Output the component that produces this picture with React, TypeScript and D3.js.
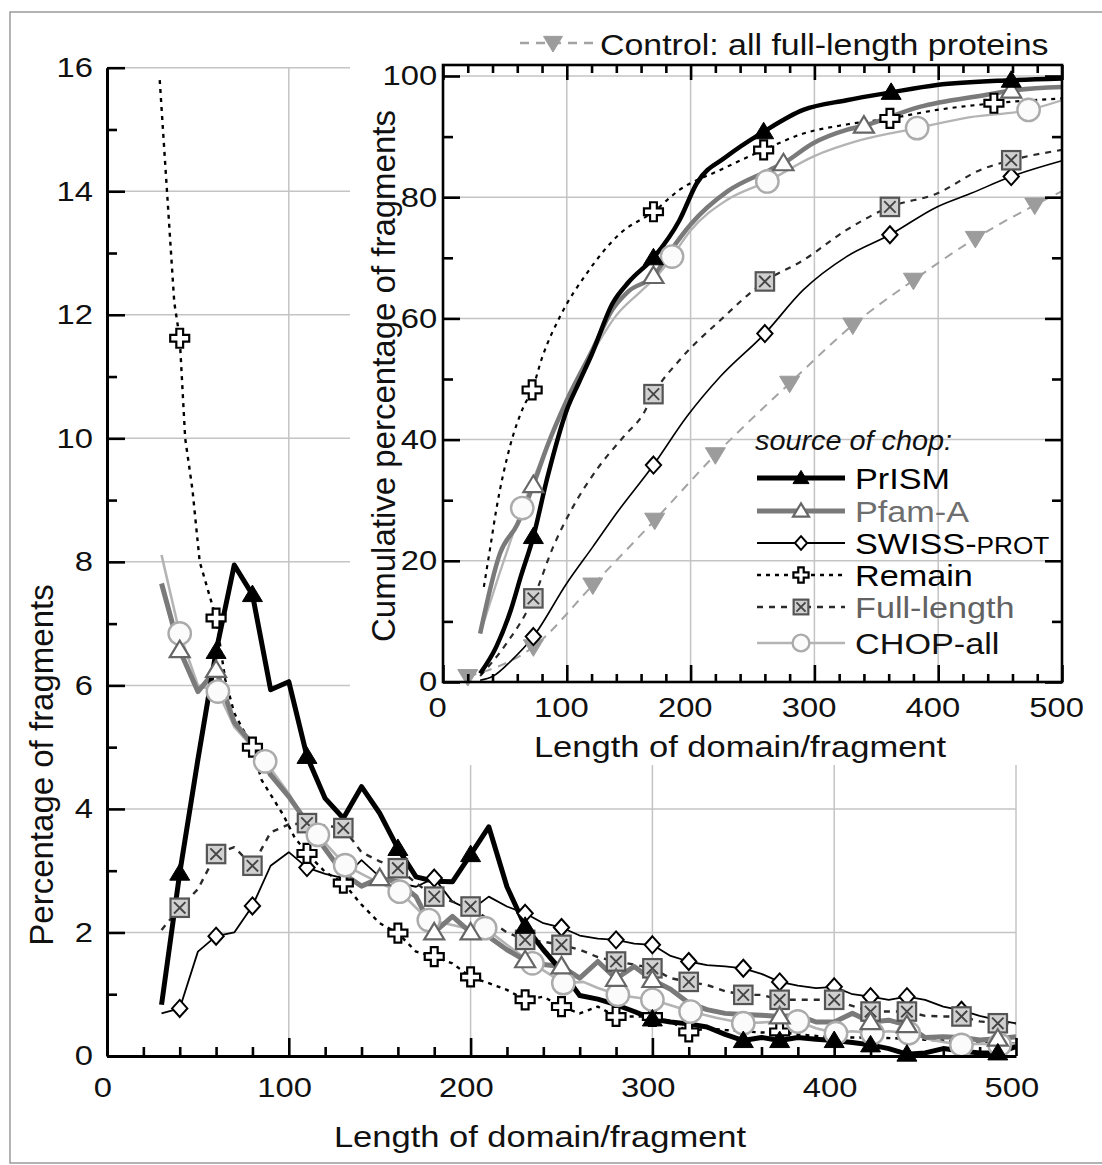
import React, { useEffect, useRef } from "react";
import * as d3 from "d3";

type Pt = [number, number];

// ---- main panel: percentage of fragments vs length ----
const prismMain: Pt[] = [[30,0.83],[40,2.96],[50,4.8],[60,6.55],[70,7.95],[80,7.47],[90,5.93],[100,6.06],[110,4.85],[120,4.17],[130,3.85],[140,4.36],[150,3.93],[160,3.36],[170,2.9],[180,2.83],[190,2.82],[200,3.26],[210,3.71],[220,2.74],[230,2.1],[240,1.72],[250,1.38],[260,0.98],[270,0.92],[280,0.83],[290,0.72],[300,0.6],[310,0.55],[320,0.52],[330,0.47],[340,0.35],[350,0.25],[360,0.3],[370,0.25],[380,0.3],[390,0.27],[400,0.25],[410,0.22],[420,0.18],[430,0.12],[440,0.03],[450,0.05],[460,0.12],[470,0.08],[480,0.05],[490,0.05],[500,0.15]];
const prismMainMarks = [40,60,80,110,160,200,230,300,350,370,400,420,440,490];

const pfamMain: Pt[] = [[30,7.65],[40,6.57],[50,5.9],[60,6.25],[70,5.4],[80,5.05],[90,4.55],[100,4.2],[110,3.78],[120,3.35],[130,2.95],[140,2.75],[150,2.88],[160,2.82],[170,2.58],[180,2.0],[190,2.26],[200,2.0],[210,1.93],[220,1.72],[230,1.55],[240,1.48],[250,1.45],[260,1.26],[270,1.53],[280,1.25],[290,1.45],[300,1.23],[310,1.08],[320,0.86],[330,0.75],[340,0.69],[350,0.67],[360,0.66],[370,0.64],[380,0.66],[390,0.55],[400,0.55],[410,0.69],[420,0.55],[430,0.58],[440,0.5],[450,0.3],[460,0.31],[470,0.3],[480,0.26],[490,0.28],[500,0.31]];
const pfamMainMarks = [40,60,150,180,200,230,250,280,300,370,420,440,490];

const swissMain: Pt[] = [[30,0.69],[40,0.77],[50,1.69],[60,1.94],[70,2.0],[80,2.43],[90,3.08],[100,3.3],[110,3.05],[120,2.95],[130,2.88],[140,3.17],[150,2.9],[160,2.8],[170,2.74],[180,2.88],[190,2.5],[200,2.36],[210,2.58],[220,2.42],[230,2.31],[240,2.15],[250,2.08],[260,1.95],[270,1.9],[280,1.88],[290,1.82],[300,1.8],[310,1.62],[320,1.53],[330,1.47],[340,1.45],[350,1.42],[360,1.33],[370,1.2],[380,1.14],[390,1.1],[400,1.12],[410,1.0],[420,0.96],[430,0.91],[440,0.96],[450,0.91],[460,0.8],[470,0.74],[480,0.65],[490,0.58],[500,0.53]];
const swissMainMarks = [40,60,80,110,180,230,250,280,300,320,350,370,400,420,440,470];

const remainMain: Pt[] = [[29,15.8],[33,14.0],[37,12.2],[40,11.62],[43,10.0],[47,9.17],[51,8.0],[60,7.09],[65,6.1],[70,5.55],[80,5.0],[85,4.47],[93,4.09],[97,3.9],[103,3.55],[110,3.28],[120,2.98],[130,2.8],[140,2.45],[150,2.15],[160,1.99],[170,1.69],[180,1.61],[190,1.5],[200,1.28],[210,1.18],[220,1.07],[230,0.91],[240,0.96],[250,0.8],[260,0.69],[270,0.8],[280,0.64],[290,0.64],[300,0.64],[310,0.56],[320,0.39],[330,0.45],[340,0.42],[350,0.4],[360,0.38],[370,0.39],[380,0.35],[400,0.3],[420,0.3],[440,0.28],[460,0.25],[480,0.22],[500,0.2]];
const remainMainMarks = [40,60,80,110,130,160,180,200,230,250,280,300,320,370];

const fullMain: Pt[] = [[30,2.04],[40,2.4],[50,2.7],[60,3.27],[70,3.38],[80,3.08],[90,3.62],[100,3.75],[110,3.77],[120,3.73],[130,3.69],[140,3.3],[150,3.15],[160,3.04],[170,2.8],[180,2.58],[190,2.5],[200,2.42],[210,2.2],[220,2.0],[230,1.88],[240,1.85],[250,1.8],[260,1.72],[270,1.6],[280,1.53],[290,1.48],[300,1.42],[310,1.26],[320,1.2],[330,1.15],[340,1.05],[350,0.99],[360,0.99],[370,0.91],[380,0.91],[390,0.91],[400,0.91],[410,0.81],[420,0.72],[430,0.72],[440,0.72],[450,0.65],[460,0.64],[470,0.64],[480,0.56],[490,0.53],[500,0.53]];
const fullMainMarks = [40,60,80,110,130,160,180,200,230,250,280,300,320,350,370,400,420,440,470,490];

const chopMain: Pt[] = [[30,8.11],[40,6.84],[50,6.0],[61,5.9],[70,5.33],[80,5.0],[87,4.77],[100,4.25],[108,3.85],[116,3.58],[131,3.09],[140,2.95],[150,2.8],[161,2.66],[170,2.4],[177,2.2],[190,2.12],[200,2.05],[208,2.07],[220,1.8],[234,1.5],[242,1.35],[251,1.18],[262,1.2],[270,1.1],[281,0.99],[290,0.95],[300,0.91],[310,0.82],[321,0.72],[335,0.62],[350,0.53],[365,0.55],[380,0.56],[390,0.45],[401,0.37],[410,0.4],[421,0.37],[430,0.4],[441,0.37],[455,0.25],[470,0.18],[480,0.2],[491,0.18],[500,0.2]];
const chopMainMarks = [40,61,87,116,131,161,177,208,234,251,281,300,321,350,380,401,421,441,470,491];

// ---- inset: cumulative percentage ----
const prismCum: Pt[] = [[30,1.4],[43,5.8],[55,12],[63,17.5],[73,24],[84,33.5],[100,44.9],[110,49.5],[120,54],[137,62.5],[150,66],[170,70],[191,76.2],[205,82.3],[229,86.7],[259,90.8],[291,94.4],[326,96.0],[362,97.3],[399,98.5],[459,99.3],[500,99.6]];
const prismCumMarks = [73,170,259,362,459];

const pfamCum: Pt[] = [[30,8.0],[46,21.2],[60,26],[73,32.5],[84,38.8],[100,46.5],[120,54.5],[137,61.5],[150,64.5],[170,67],[185,71.5],[200,75.5],[230,81],[264,84.5],[275,85.6],[299,88.9],[326,91.1],[340,91.8],[385,94.9],[439,96.9],[459,97.6],[500,98.2]];
const pfamCumMarks = [73,170,275,340,459];

const swissCum: Pt[] = [[30,0.3],[40,0.9],[55,3.5],[73,7.5],[100,16.3],[121,22.3],[140,27.8],[170,35.8],[197,43.8],[224,50.4],[260,57.5],[291,64.7],[326,70.2],[361,73.8],[399,78.4],[426,80.6],[459,83.4],[500,86]];
const swissCumMarks = [73,170,260,361,459];

const remainCum: Pt[] = [[33,15.7],[38,22],[43,28.4],[54,38.8],[65,45.4],[72,48.2],[80,53.5],[95,60.5],[116,67.4],[143,74],[170,77.6],[191,81.2],[224,84.5],[259,87.8],[291,90.5],[326,92],[361,93],[399,94.4],[445,95.5],[500,96.3]];
const remainCumMarks = [72,170,259,361,445];

const fullCum: Pt[] = [[30,1.0],[50,6],[73,13.8],[89,22.3],[105,28.9],[124,35],[146,40.5],[162,44.3],[170,47.5],[191,53.1],[224,59.7],[260,66.1],[291,69.6],[326,74.6],[361,78.4],[399,80.6],[434,84.5],[459,86.1],[500,87.8]];
const fullCumMarks = [73,170,260,361,459];

const chopCum: Pt[] = [[30,8],[45,17.5],[64,28.7],[80,37],[100,46],[120,54],[140,60.5],[160,64.5],[175,67.5],[185,70.2],[200,74.5],[229,79.5],[262,82.6],[299,86.7],[337,89.4],[383,91.4],[426,93.2],[473,94.4],[500,96]];
const chopCumMarks = [64,185,262,383,473];

const controlCum: Pt[] = [[20,0.9],[73,5.8],[121,16],[171,26.7],[220,37.5],[280,49.3],[331,58.9],[380,66.3],[430,73.2],[478,78.7],[500,81]];
const controlCumMarks = [20,73,121,171,220,280,331,380,430,478];

// ---- ticks / labels ----
const mainYTicks = [0,2,4,6,8,10,12,14,16];
const mainXTicks = [0,100,200,300,400,500];
const insetYTicks = [0,20,40,60,80,100];
const insetXTicks = [0,100,200,300,400,500];
const legendKeys = ["prism","pfam","swiss","remain","full","chop"];
const legendNames = ["PrISM","Pfam-A","SWISS-","Remain","Full-length","CHOP-all"];

const FONT = '"Liberation Sans", Arial, Helvetica, sans-serif';

const STYLE: any = {
  prism:   { color: "#000", width: 5, dash: null, shape: "triUp", fill: "#000", stroke: "#000", sw: 1, text: "#000" },
  pfam:    { color: "#7a7a7a", width: 5, dash: null, shape: "triUp", fill: "#fff", stroke: "#666", sw: 2.2, text: "#6e6e6e" },
  swiss:   { color: "#000", width: 1.8, dash: null, shape: "diamond", fill: "#fff", stroke: "#000", sw: 2, text: "#000" },
  remain:  { color: "#000", width: 2.4, dash: "4 5", shape: "cross", fill: "#fff", stroke: "#000", sw: 2.2, text: "#000" },
  full:    { color: "#2a2a2a", width: 2.4, dash: "6 6", shape: "squareX", fill: "#d0d0d0", stroke: "#555", sw: 2.2, text: "#626262" },
  chop:    { color: "#b4b4b4", width: 2.6, dash: null, shape: "circle", fill: "#fbfbfb", stroke: "#ababab", sw: 2.4, text: "#111" },
  control: { color: "#a3a3a3", width: 2.2, dash: "9 7", shape: "triDown", fill: "#9c9c9c", stroke: "#9c9c9c", sw: 1, text: "#111" },
};

function drawMarker(g: any, key: string, cx: number, cy: number, k: number) {
  const st = STYLE[key];
  const m = g.append("g").attr("transform", `translate(${cx},${cy})`);
  const s = 10 * k;
  const common = (sel: any) => sel.attr("fill", st.fill).attr("stroke", st.stroke).attr("stroke-width", st.sw).attr("stroke-linejoin", "miter");
  if (st.shape === "triUp") {
    common(m.append("path").attr("d", `M0,${-s * 0.95}L${s},${s * 0.7}L${-s},${s * 0.7}Z`));
  } else if (st.shape === "triDown") {
    common(m.append("path").attr("d", `M0,${s * 0.95}L${s},${-s * 0.7}L${-s},${-s * 0.7}Z`));
  } else if (st.shape === "diamond") {
    const d = s * 0.85;
    common(m.append("path").attr("d", `M0,${-d}L${d * 0.9},0L0,${d}L${-d * 0.9},0Z`));
  } else if (st.shape === "cross") {
    const h = s * 0.95, a = s * 0.34;
    common(m.append("path").attr("d",
      `M${-a},${-h}L${a},${-h}L${a},${-a}L${h},${-a}L${h},${a}L${a},${a}L${a},${h}L${-a},${h}L${-a},${a}L${-h},${a}L${-h},${-a}L${-a},${-a}Z`));
  } else if (st.shape === "squareX") {
    const h = s * 0.92;
    common(m.append("rect").attr("x", -h).attr("y", -h).attr("width", 2 * h).attr("height", 2 * h));
    const q = h * 0.62;
    m.append("path").attr("d", `M${-q},${-q}L${q},${q}M${q},${-q}L${-q},${q}`)
      .attr("stroke", "#444").attr("stroke-width", 1.9).attr("fill", "none");
  } else if (st.shape === "circle") {
    common(m.append("circle").attr("r", s * 1.12));
  }
}

function drawLine(g: any, key: string, pts: Pt[], x: any, y: any, curve: any, widthScale = 1) {
  const st = STYLE[key];
  const line = d3.line<Pt>().x(d => x(d[0])).y(d => y(d[1])).curve(curve);
  g.append("path").datum(pts)
    .attr("d", line)
    .attr("fill", "none")
    .attr("stroke", st.color)
    .attr("stroke-width", st.width * widthScale)
    .attr("stroke-dasharray", st.dash)
    .attr("stroke-linejoin", "round");
}

function drawMarks(g: any, key: string, pts: Pt[], marks: number[], x: any, y: any, k: number) {
  pts.filter(p => marks.includes(p[0])).forEach(p => drawMarker(g, key, x(p[0]), y(p[1]), k));
}

function txt(g: any, s: string, x: number, y: number, size: number, opts: any = {}) {
  const sx = opts.sx ?? 1.16;
  const t = g.append("text")
    .attr("transform", opts.rotate ? `translate(${x},${y}) rotate(${opts.rotate})` : `translate(${x},${y}) scale(${sx},1)`)
    .attr("font-family", FONT)
    .attr("font-size", size)
    .attr("text-anchor", opts.anchor || "start")
    .attr("fill", opts.fill || "#111")
    .attr("font-style", opts.italic ? "italic" : "normal")
    .text(s);
  return t;
}

function styleAxis(g: any, labels: boolean, sx = 1.17) {
  g.select(".domain").attr("stroke", "#000").attr("stroke-width", 3);
  g.selectAll(".tick line").attr("stroke", "#000").attr("stroke-width", 2.6);
  if (labels) {
    g.selectAll(".tick text")
      .attr("font-family", FONT).attr("font-size", 28).attr("fill", "#111")
      .attr("transform", `scale(${sx},1)`);
  } else {
    g.selectAll(".tick text").remove();
  }
}

const App = () => {
  const ref = useRef<SVGSVGElement>(null);

  useEffect(() => {
    const svg = d3.select(ref.current);
    svg.selectAll("*").remove();

    svg.append("rect").attr("width", 1102).attr("height", 1165).attr("fill", "#fff");
    svg.append("rect").attr("x", 10).attr("y", 12).attr("width", 1120).attr("height", 1151)
      .attr("fill", "none").attr("stroke", "#9a9a9a").attr("stroke-width", 1.5);

    // ---------- main panel ----------
    const mx = d3.scaleLinear().domain([0, 500]).range([107, 1016]);
    const my = d3.scaleLinear().domain([0, 16]).range([1056, 67.7]);
    const main = svg.append("g");

    main.append("g").selectAll("line").data(mainYTicks.filter(d => d > 0)).join("line")
      .attr("x1", mx(0)).attr("x2", mx(500)).attr("y1", d => my(d)).attr("y2", d => my(d))
      .attr("stroke", "#c4c4c4").attr("stroke-width", 1.5);
    main.append("g").selectAll("line").data(mainXTicks.filter(d => d > 0)).join("line")
      .attr("x1", d => mx(d)).attr("x2", d => mx(d)).attr("y1", my(0)).attr("y2", my(16))
      .attr("stroke", "#c4c4c4").attr("stroke-width", 1.5);

    const mainSeries: [string, Pt[], number[]][] = [
      ["swiss", swissMain, swissMainMarks],
      ["full", fullMain, fullMainMarks],
      ["remain", remainMain, remainMainMarks],
      ["chop", chopMain, chopMainMarks],
      ["pfam", pfamMain, pfamMainMarks],
      ["prism", prismMain, prismMainMarks],
    ];
    mainSeries.forEach(([k, p]) => drawLine(main, k, p, mx, my, d3.curveLinear));
    mainSeries.forEach(([k, p, m]) => drawMarks(main, k, p, m, mx, my, 1));

    main.append("g").attr("transform", `translate(${mx(0)},0)`)
      .call(d3.axisLeft(my).tickValues(d3.range(1, 16, 2)).tickSizeInner(-10).tickSizeOuter(0).tickFormat(() => ""))
      .call((g: any) => { styleAxis(g, false); g.select(".domain").remove(); });
    main.append("g").attr("transform", `translate(${mx(0)},0)`)
      .call(d3.axisLeft(my).tickValues(mainYTicks).tickSizeInner(-18).tickSizeOuter(0).tickPadding(12))
      .call((g: any) => styleAxis(g, true));
    main.append("g").attr("transform", `translate(0,${my(0)})`)
      .call(d3.axisBottom(mx).tickValues(d3.range(20, 500, 20).filter(d => d % 100 !== 0)).tickSizeInner(-9).tickSizeOuter(0).tickFormat(() => ""))
      .call((g: any) => { styleAxis(g, false); g.select(".domain").remove(); });
    main.append("g").attr("transform", `translate(0,${my(0)})`)
      .call(d3.axisBottom(mx).tickValues(mainXTicks).tickSizeInner(-18).tickSizeOuter(0).tickPadding(21))
      .call((g: any) => { styleAxis(g, true); g.selectAll(".tick text").attr("x", -4); });

    txt(main, "Length of domain/fragment", 540, 1147, 30, { anchor: "middle", sx: 1.15 });
    txt(main, "Percentage of fragments", 53, 765, 33, { anchor: "middle", rotate: -90 });

    // ---------- inset ----------
    const ix = d3.scaleLinear().domain([0, 500]).range([443, 1062]);
    const iy = d3.scaleLinear().domain([0, 100]).range([682, 76]);
    const inset = svg.append("g");
    inset.append("rect").attr("x", 350).attr("y", 22).attr("width", 760).attr("height", 743).attr("fill", "#fff");

    inset.append("g").selectAll("line").data(insetYTicks.filter(d => d > 0)).join("line")
      .attr("x1", ix(0)).attr("x2", ix(500)).attr("y1", d => iy(d)).attr("y2", d => iy(d))
      .attr("stroke", "#c4c4c4").attr("stroke-width", 1.5);
    inset.append("g").selectAll("line").data(insetXTicks.filter(d => d > 0 && d < 500)).join("line")
      .attr("x1", d => ix(d)).attr("x2", d => ix(d)).attr("y1", iy(0)).attr("y2", 65)
      .attr("stroke", "#c4c4c4").attr("stroke-width", 1.5);

    const insetSeries: [string, Pt[], number[]][] = [
      ["control", controlCum, controlCumMarks],
      ["swiss", swissCum, swissCumMarks],
      ["full", fullCum, fullCumMarks],
      ["remain", remainCum, remainCumMarks],
      ["chop", chopCum, chopCumMarks],
      ["pfam", pfamCum, pfamCumMarks],
      ["prism", prismCum, prismCumMarks],
    ];
    insetSeries.forEach(([k, p]) => drawLine(inset, k, p, ix, iy, d3.curveMonotoneX, 0.9));
    insetSeries.forEach(([k, p, m]) => drawMarks(inset, k, p, m, ix, iy, 1));

    inset.append("rect").attr("x", ix(0)).attr("y", 65).attr("width", ix(500) - ix(0)).attr("height", iy(0) - 65)
      .attr("fill", "none").attr("stroke", "#000").attr("stroke-width", 2.6);

    const minorX = d3.range(20, 500, 20).filter(d => d % 100 !== 0);
    const minorY = d3.range(10, 100, 20);
    const noLab = () => "";
    inset.append("g").attr("transform", `translate(0,${iy(0)})`)
      .call(d3.axisBottom(ix).tickValues(minorX).tickSizeInner(-8).tickSizeOuter(0).tickFormat(noLab))
      .call((g: any) => { styleAxis(g, false); g.select(".domain").remove(); });
    inset.append("g").attr("transform", `translate(0,${iy(0)})`)
      .call(d3.axisBottom(ix).tickValues(insetXTicks).tickSizeInner(-17).tickSizeOuter(0).tickPadding(15))
      .call((g: any) => { styleAxis(g, true); g.select(".domain").remove(); g.selectAll(".tick text").attr("x", -5); });
    inset.append("g").attr("transform", `translate(0,65)`)
      .call(d3.axisTop(ix).tickValues(minorX).tickSizeInner(-8).tickSizeOuter(0).tickFormat(noLab))
      .call((g: any) => { styleAxis(g, false); g.select(".domain").remove(); });
    inset.append("g").attr("transform", `translate(0,65)`)
      .call(d3.axisTop(ix).tickValues(insetXTicks).tickSizeInner(-15).tickSizeOuter(0).tickFormat(noLab))
      .call((g: any) => { styleAxis(g, false); g.select(".domain").remove(); });
    inset.append("g").attr("transform", `translate(${ix(0)},0)`)
      .call(d3.axisLeft(iy).tickValues(minorY).tickSizeInner(-10).tickSizeOuter(0).tickFormat(noLab))
      .call((g: any) => { styleAxis(g, false); g.select(".domain").remove(); });
    inset.append("g").attr("transform", `translate(${ix(0)},0)`)
      .call(d3.axisLeft(iy).tickValues(insetYTicks).tickSizeInner(-17).tickSizeOuter(0).tickPadding(5))
      .call((g: any) => { styleAxis(g, true); g.select(".domain").remove(); });
    inset.append("g").attr("transform", `translate(${ix(500)},0)`)
      .call(d3.axisRight(iy).tickValues(minorY).tickSizeInner(-10).tickSizeOuter(0).tickFormat(noLab))
      .call((g: any) => { styleAxis(g, false); g.select(".domain").remove(); });
    inset.append("g").attr("transform", `translate(${ix(500)},0)`)
      .call(d3.axisRight(iy).tickValues(insetYTicks).tickSizeInner(-17).tickSizeOuter(0).tickFormat(noLab))
      .call((g: any) => { styleAxis(g, false); g.select(".domain").remove(); });

    txt(inset, "Length of domain/fragment", 740, 757, 30, { anchor: "middle", sx: 1.15 });
    txt(inset, "Cumulative percentage of fragments", 395, 376, 33, { anchor: "middle", rotate: -90 });

    // control legend (top)
    const lg = svg.append("g");
    lg.append("line").attr("x1", 520).attr("x2", 594).attr("y1", 43).attr("y2", 43)
      .attr("stroke", STYLE.control.color).attr("stroke-width", 2.4).attr("stroke-dasharray", "9 7");
    drawMarker(lg, "control", 553, 43, 0.95);
    txt(lg, "Control: all full-length proteins", 600, 55, 29.5, { sx: 1.15 });

    // source legend (inside inset)
    txt(lg, "source of chop:", 755, 450, 28, { italic: true, sx: 1.03 });
    const rows = [478, 511, 543, 575, 607, 643];
    legendKeys.forEach((k, i) => {
      const st = STYLE[k];
      const yc = rows[i];
      lg.append("line").attr("x1", 757).attr("x2", 845).attr("y1", yc).attr("y2", yc)
        .attr("stroke", st.color).attr("stroke-width", st.width).attr("stroke-dasharray", st.dash);
      drawMarker(lg, k, 801, yc, k === "chop" ? 0.75 : 0.8);
      const t = txt(lg, legendNames[i], 855, yc + 11, 30, { sx: 1.14, fill: st.text });
      if (k === "swiss") t.append("tspan").attr("font-size", 23).text("PROT");
    });
  }, []);

  return (
    <svg ref={ref} width={1102} height={1165}
      style={{ position: "absolute", left: 0, top: 0, display: "block", background: "#fff" }} />
  );
};

export default App;
